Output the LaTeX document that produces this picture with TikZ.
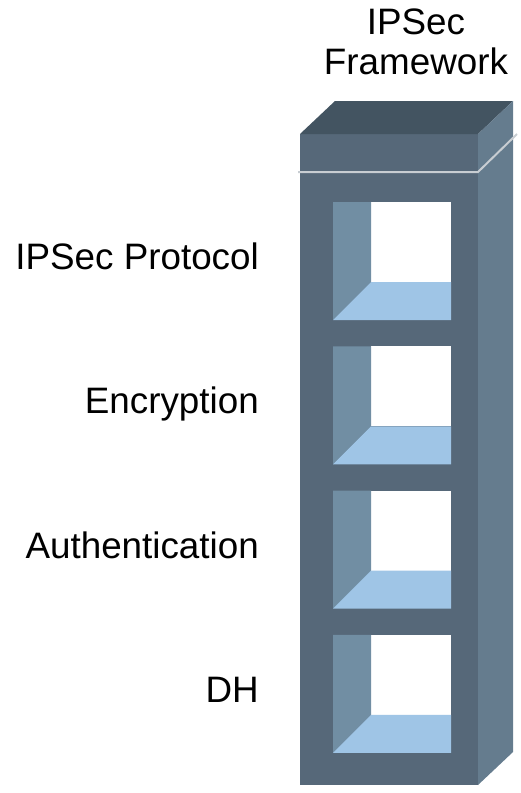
\documentclass[tikz,border=0pt]{standalone}
\usepackage{fontspec}
\setmainfont{Liberation Sans}
\definecolor{frontface}{RGB}{86,104,121}
\definecolor{topface}{RGB}{67,84,97}
\definecolor{sideface}{RGB}{101,124,142}
\definecolor{wallpanel}{RGB}{113,142,163}
\definecolor{floorpanel}{RGB}{159,197,230}
\definecolor{seamline}{RGB}{200,205,210}
\tikzset{
  lbl/.style={anchor=base east, inner sep=0pt, font=\fontsize{36.8}{39.5}\selectfont},
}
\begin{document}
\begin{tikzpicture}[x=1pt, y=-1pt] % pixel units, y grows downwards
    \useasboundingbox (0,0) rectangle (520,793);

    % 1. Draw the tower body
    \fill[frontface] (300,134) rectangle (478,785);
    \fill[topface] (300,134) -- (335,101) -- (513,101) -- (478,134) -- cycle;
    \fill[sideface] (478,134) -- (513,101) -- (513,752) -- (478,785) -- cycle;
    \draw[seamline, line width=2pt] (298,172) -- (478,172) -- (517,134);

    % 2. Draw the four openings
    \foreach \i in {0,1,2,3} {
        \pgfmathsetmacro{\t}{202+144.3*\i}
        \fill[white] (371,\t) rectangle (451,\t+80);
        \fill[wallpanel] (333,\t) -- (371,\t) -- (371,\t+80) -- (333,\t+118) -- cycle;
        \fill[floorpanel] (333,\t+118) -- (371,\t+80) -- (451,\t+80) -- (451,\t+118) -- cycle;
    }

    % 3. Add the labels
    \node[anchor=north, inner sep=0pt, align=center, font=\fontsize{36.8}{39.5}\selectfont] (title) at (416,9) {IPSec\\Framework};
    \node[lbl] (protocol) at (259,269) {IPSec Protocol};
    \node[lbl] (encryption) at (259,413) {Encryption};
    \node[lbl] (authentication) at (259,558) {Authentication};
    \node[lbl] (dh) at (259,702) {DH};
\end{tikzpicture}
\end{document}
